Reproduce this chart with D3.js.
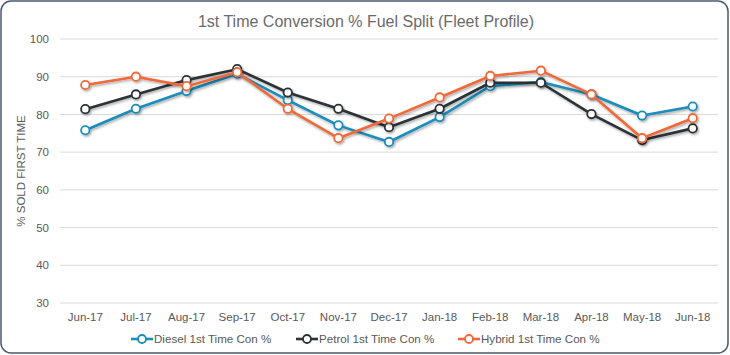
<!DOCTYPE html>
<html><head><meta charset="utf-8">
<script src="https://cdn.jsdelivr.net/npm/d3@7"></script>
<style>body{margin:0;background:#fff;}svg{display:block;font-family:"Liberation Sans",Arial,sans-serif;}</style>
</head><body>
<script>
const months = ["Jun-17","Jul-17","Aug-17","Sep-17","Oct-17","Nov-17","Dec-17","Jan-18","Feb-18","Mar-18","Apr-18","May-18","Jun-18"];
const diesel = [75.8,81.5,86.2,90.8,83.8,77.1,72.7,79.3,87.5,88.6,85.3,79.7,82.1];
const petrol = [81.4,85.3,89.1,92.0,85.8,81.5,76.6,81.5,88.4,88.4,80.1,73.2,76.3];
const hybrid = [87.8,90.0,87.5,91.2,81.5,73.7,78.9,84.5,90.2,91.6,85.3,73.7,79.0];
const yTicks = [30,40,50,60,70,80,90,100];
const seriesNames = ["Diesel 1st Time Con %","Petrol 1st Time Con %","Hybrid 1st Time Con %"];
const seriesColors = ["#1a8dbb","#2b3338","#f0693a"];
const title = "1st Time Conversion % Fuel Split (Fleet Profile)";
const yTitle = "% SOLD FIRST TIME";

const W=730,H=355;
const svg=d3.select("body").append("svg").attr("width",W).attr("height",H);
const defs=svg.append("defs");
const f=defs.append("filter").attr("id","sh").attr("x","-10%").attr("y","-20%").attr("width","130%").attr("height","150%");
f.append("feDropShadow").attr("dx",1.2).attr("dy",1.5).attr("stdDeviation",1).attr("flood-color","#000").attr("flood-opacity",0.35);

svg.append("rect").attr("x",1).attr("y",1).attr("width",W-3).attr("height",H-3).attr("rx",10)
  .attr("fill","#fff").attr("stroke","#4a5a6e").attr("stroke-width",1.5);

svg.append("text").attr("x",366).attr("y",27).attr("text-anchor","middle").attr("fill","#6b6b6b")
  .attr("font-size",16).text(title);

const x=d3.scaleBand().domain(months).range([60,718]);
const y=d3.scaleLinear().domain([30,100]).range([303,39]);

const g=svg.append("g");
g.selectAll("line.grid").data(yTicks).join("line").attr("class","grid")
  .attr("x1",60).attr("x2",718).attr("y1",d=>y(d)).attr("y2",d=>y(d))
  .attr("stroke","#d9d9d9").attr("stroke-width",1);

const ya=svg.append("g").attr("transform","translate(60,0)")
  .call(d3.axisLeft(y).tickValues(yTicks).tickSize(0).tickPadding(11));
ya.select(".domain").remove();
ya.selectAll("text").attr("fill","#595959").attr("font-size",11.5).attr("font-family","Liberation Sans, Arial, sans-serif");

const xa=svg.append("g").attr("transform","translate(0,303)")
  .call(d3.axisBottom(x).tickSize(0).tickPadding(10));
xa.select(".domain").remove();
xa.selectAll("text").attr("fill","#595959").attr("font-size",11.5).attr("font-family","Liberation Sans, Arial, sans-serif");

svg.append("text").attr("transform","translate(25,171) rotate(-90)").attr("text-anchor","middle")
  .attr("fill","#595959").attr("font-size",11.5).text(yTitle);

const data=[diesel,petrol,hybrid];
const line=d3.line().x((d,i)=>x(months[i])+x.bandwidth()/2).y(d=>y(d));
data.forEach((s,k)=>{
  const sg=svg.append("g").attr("filter","url(#sh)");
  sg.append("path").datum(s).attr("d",line).attr("fill","none").attr("stroke",seriesColors[k]).attr("stroke-width",2.6).attr("stroke-linejoin","round");
  sg.selectAll("circle").data(s).join("circle").attr("cx",(d,i)=>x(months[i])+x.bandwidth()/2).attr("cy",d=>y(d))
    .attr("r",4.2).attr("fill","#fff").attr("stroke",seriesColors[k]).attr("stroke-width",1.8);
});

// legend
const lx=[131,296,458];
const lg=svg.append("g");
seriesNames.forEach((n,k)=>{
  const gg=lg.append("g").attr("transform",`translate(${lx[k]},339)`);
  gg.append("line").attr("x1",0).attr("x2",22).attr("y1",0).attr("y2",0).attr("stroke",seriesColors[k]).attr("stroke-width",2.6);
  gg.append("circle").attr("cx",11).attr("cy",0).attr("r",4).attr("fill","#fff").attr("stroke",seriesColors[k]).attr("stroke-width",1.8);
  gg.append("text").attr("x",23).attr("y",4.2).attr("fill","#595959").attr("font-size",11.6).text(n);
});
</script>
</body></html>
